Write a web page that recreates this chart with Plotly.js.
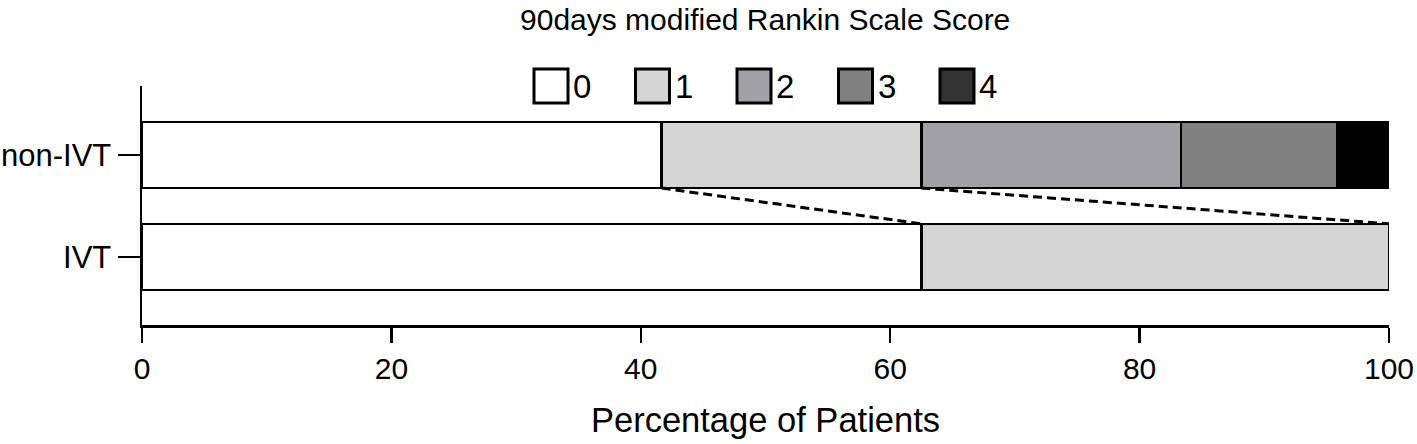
<!DOCTYPE html>
<html>
<head>
<meta charset="utf-8">
<script src="https://cdn.plot.ly/plotly-3.0.1.min.js"></script>
<style>
  html, body { margin: 0; padding: 0; background: #fff; }
  #chart { width: 1417px; height: 444px; }
</style>
</head>
<body>
<div id="chart"></div>
<script>
// groups on the y axis (bottom to top)
const groups = ['IVT', 'non-IVT'];
// mRS score categories
const scores = ['0', '1', '2', '3', '4'];
// percentage of patients per score
const ivtPct = [62.5, 37.5, null, null, null];
const nonIvtPct = [41.67, 20.83, 20.83, 12.5, 4.17];

const barColors = ['#ffffff', '#d4d4d4', '#a0a0a5', '#808080', '#000000'];
const keyColors = ['#ffffff', '#d4d4d4', '#a0a0a5', '#808080', '#333333'];
const barWidth = 0.65;

const font = 'Liberation Sans, Arial, sans-serif';

const traces = scores.map((s, i) => ({
  type: 'bar',
  orientation: 'h',
  name: s,
  y: groups,
  x: [ivtPct[i], nonIvtPct[i]],
  width: barWidth,
  marker: {color: barColors[i], line: {color: '#000', width: 2.5}},
  showlegend: false,
  hoverinfo: 'x+name',
}));

// cumulative ends of each segment
function cumulative(arr) {
  let sum = 0;
  return arr.map(v => (sum += (v || 0)));
}
const ivtEnd = cumulative(ivtPct);
const nonIvtEnd = cumulative(nonIvtPct);

const shapes = [];
// dashed connectors between the score 0 and score 1 boundaries
[0, 1].forEach(k => {
  shapes.push({
    type: 'line', xref: 'x', yref: 'y',
    x0: nonIvtEnd[k], y0: 1 - barWidth / 2,
    x1: ivtEnd[k], y1: barWidth / 2,
    line: {color: '#000', width: 3, dash: '9px,5px'},
  });
});

// hand drawn key along the top
const annotations = [];
const plotL = 142, plotW = 1247, plotT = 86, plotH = 239;
const keyX0 = 534, keyStep = 101.5, keySize = 34, keyY = 86;
scores.forEach((s, i) => {
  const left = keyX0 + i * keyStep;
  shapes.push({
    type: 'rect', xref: 'paper', yref: 'paper',
    x0: (left - plotL) / plotW, x1: (left + keySize - plotL) / plotW,
    y0: (plotT + plotH - (keyY + keySize / 2)) / plotH,
    y1: (plotT + plotH - (keyY - keySize / 2)) / plotH,
    fillcolor: keyColors[i],
    line: {color: '#000', width: 3},
  });
  annotations.push({
    xref: 'paper', yref: 'paper',
    x: (left + keySize + 3 - plotL) / plotW,
    y: (plotT + plotH - keyY) / plotH,
    xanchor: 'left', yanchor: 'middle',
    text: s, showarrow: false,
    font: {family: font, size: 33, color: '#000'},
  });
});

const layout = {
  width: 1417,
  height: 444,
  margin: {l: 142, r: 28, t: 86, b: 119},
  paper_bgcolor: '#fff',
  plot_bgcolor: '#fff',
  barmode: 'stack',
  font: {family: font, color: '#000'},
  title: {
    text: '90days modified Rankin Scale Score',
    font: {family: font, size: 30, color: '#000'},
    x: 0.54, xanchor: 'center',
    y: 1 - 19 / 444, yanchor: 'middle',
  },
  xaxis: {
    range: [0, 100],
    tickvals: [0, 20, 40, 60, 80, 100],
    ticks: 'outside', ticklen: 15, tickwidth: 2.5, tickcolor: '#000',
    showline: true, linecolor: '#000', linewidth: 2.5,
    showgrid: false, zeroline: false,
    tickfont: {family: font, size: 30, color: '#000'},
    title: {
      text: 'Percentage of Patients',
      font: {family: font, size: 34.5, color: '#000'},
      standoff: 25,
    },
  },
  yaxis: {
    type: 'category',
    categoryorder: 'array',
    categoryarray: groups,
    range: [-0.667, 1.676],
    ticks: 'outside', ticklen: 22, tickwidth: 2.5, tickcolor: '#000',
    showline: true, linecolor: '#000', linewidth: 2.5,
    showgrid: false, zeroline: false,
    tickfont: {family: font, size: 31, color: '#000'},
  },
  shapes: shapes,
  annotations: annotations,
};

Plotly.newPlot('chart', traces, layout, {staticPlot: true});
</script>
</body>
</html>
